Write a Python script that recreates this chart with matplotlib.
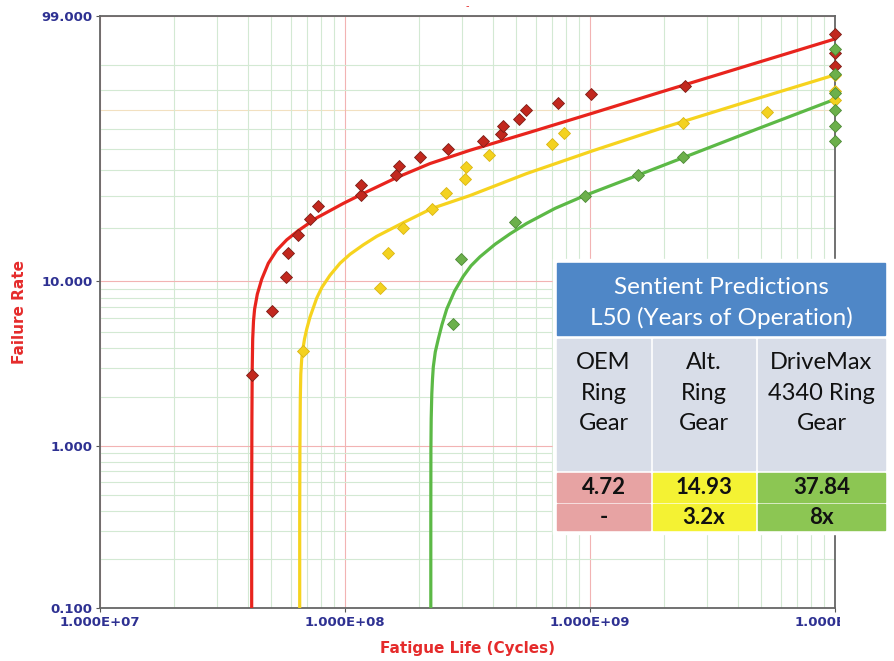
import numpy as np
import matplotlib.pyplot as plt
from matplotlib.patches import Rectangle
from matplotlib.ticker import LogLocator, FixedLocator, NullFormatter
from matplotlib.transforms import Bbox, TransformedBbox

# values: fatigue life (cycles) / failure rate (%)
oem_x = [4.16e7, 5.03e7, 5.74e7, 5.85e7, 6.43e7, 7.19e7, 7.78e7, 1.16e8, 1.16e8,
         1.61e8, 1.66e8, 2.02e8, 2.64e8, 3.65e8, 4.34e8, 4.43e8, 5.12e8, 5.47e8,
         7.38e8, 1.01e9, 2.44e9, 1e10, 1e10, 1e10]
oem_y = [2.74, 6.67, 10.6, 14.5, 18.4, 22.4, 26.4, 30.1, 34.1, 37.9, 42.1, 45.9,
         50.0, 54.1, 57.7, 61.9, 65.4, 69.9, 73.6, 77.8, 81.5, 97.2, 93.3, 89.4]

alt_x = [6.71e7, 1.39e8, 1.50e8, 1.73e8, 2.26e8, 2.58e8, 3.09e8, 3.11e8, 3.86e8,
         7.02e8, 7.85e8, 2.40e9, 5.26e9, 1e10, 1e10, 1e10]
alt_y = [3.81, 9.12, 14.6, 20.2, 25.4, 30.8, 36.4, 41.6, 47.1, 52.5, 58.1, 63.3,
         69.0, 86.1, 79.5, 74.9]

dmx_x = [2.77e8, 2.97e8, 4.94e8, 9.55e8, 1.57e9, 2.39e9,
         1e10, 1e10, 1e10, 1e10, 1e10, 1e10]
dmx_y = [5.58, 13.5, 21.7, 29.8, 37.9, 45.9, 94.4, 86.6, 78.5, 70.2, 61.9, 54.1]

# fitted lines
oem_fit_x = [4.160e7, 4.160e7, 4.169e7, 4.181e7, 4.200e7, 4.232e7, 4.276e7, 4.386e7,
             4.571e7, 4.864e7, 5.263e7, 5.781e7, 6.429e7, 7.664e7, 9.842e7, 1.188e8,
             1.626e8, 2.223e8, 3.237e8, 5.690e8, 1.029e9, 1.931e9, 4.498e9, 1e10]
oem_fit_y = [0.1, 0.475, 1.471, 2.972, 4.514, 5.787, 6.828, 8.379,
             10.26, 12.71, 15.08, 17.28, 19.40, 22.86, 27.30, 30.76,
             36.94, 43.03, 49.33, 58.48, 68.53, 78.83, 89.93, 96.39]

alt_fit_x = [6.533e7, 6.533e7, 6.546e7, 6.570e7, 6.601e7, 6.657e7, 6.733e7, 6.835e7,
             6.978e7, 7.197e7, 7.664e7, 8.055e7, 8.687e7, 9.541e7, 1.048e8, 1.188e8,
             1.347e8, 1.729e8, 2.265e8, 3.237e8, 5.516e8, 1.031e9, 1.931e9, 4.498e9, 1e10]
alt_fit_y = [0.1, 0.358, 0.963, 1.950, 2.770, 3.416, 3.927, 4.514,
             5.184, 6.117, 7.934, 9.213, 10.83, 12.71, 14.31, 16.20,
             18.08, 21.52, 25.69, 30.00, 38.62, 49.17, 60.34, 74.75, 86.35]

dmx_fit_x = [2.240e8, 2.240e8, 2.242e8, 2.248e8, 2.261e8, 2.276e8, 2.293e8, 2.336e8,
             2.403e8, 2.488e8, 2.601e8, 2.799e8, 3.040e8, 3.268e8, 3.556e8, 4.095e8,
             4.715e8, 5.516e8, 7.197e8, 9.541e8, 1.574e9, 2.388e9, 4.942e9, 1e10]
dmx_fit_y = [0.1, 0.358, 0.963, 1.471, 2.092, 2.582, 3.055, 3.767,
             4.514, 5.516, 6.828, 8.727, 10.68, 12.29, 13.85, 16.31,
             18.67, 21.33, 25.69, 30.03, 37.98, 45.67, 60.75, 75.49]

x_ticks = [1e7, 1e8, 1e9, 1e10]
x_tick_labels = ['1.000E+07', '1.000E+08', '1.000E+09', '1.000E+10']
y_ticks = [0.1, 1, 10, 99]
y_tick_labels = ['0.100', '1.000', '10.000', '99.000']
y_minor = [0.2, 0.3, 0.4, 0.5, 0.6, 0.7, 0.8, 0.9, 2, 3, 4, 5, 6, 7, 8, 9,
           20, 30, 40, 50, 60, 80, 90]

# table
table_title = ['Sentient Predictions', 'L50 (Years of Operation)']
gear_names = ['OEM\nRing\nGear', 'Alt.\nRing\nGear', 'DriveMax\n4340 Ring\nGear']
l50_years = ['4.72', '14.93', '37.84']
improvement = ['-', '3.2x', '8x']
cell_colors = ['#e7a3a3', '#f4f233', '#8cc653']

RED = '#e52b2b'
NAVY = '#2e3192'


def weib(p):
    p = np.clip(np.asarray(p, dtype=float), 1e-6, 99.99999) / 100.0
    return np.log(-np.log(1.0 - p))


def weib_inv(w):
    w = np.clip(np.asarray(w, dtype=float), -40, 3)
    return 100.0 * (1.0 - np.exp(-np.exp(w)))


fig = plt.figure(figsize=(8.94, 6.61), dpi=100)
ax = fig.add_axes([100 / 894, 1 - 608 / 661, 735 / 894, 592 / 661])
ax.set_xscale('log')
ax.set_yscale('function', functions=(weib, weib_inv))
ax.set_xlim(1e7, 1e10)
ax.set_ylim(0.1, 99)

ax.set_xticks(x_ticks)
ax.set_xticklabels(x_tick_labels, fontweight='bold', color=NAVY, fontsize=9.5)
ax.xaxis.set_minor_locator(LogLocator(base=10, subs=np.arange(2, 10)))
ax.xaxis.set_minor_formatter(NullFormatter())
ax.set_yticks(y_ticks)
ax.set_yticklabels(y_tick_labels, fontweight='bold', color=NAVY, fontsize=9.5)
ax.yaxis.set_minor_locator(FixedLocator(y_minor))
ax.yaxis.set_minor_formatter(NullFormatter())
ax.tick_params(which='major', length=3, pad=2.5, color='#555555')
ax.tick_params(which='minor', length=0)

ax.grid(which='minor', color='#d3e9d3', lw=0.8)
ax.grid(which='major', color='#f2b3b3', lw=0.8)
ax.axhline(70, color='#f2e0c0', lw=0.8, zorder=0.5)
ax.set_axisbelow(True)
for s in ax.spines.values():
    s.set_color('#666666')
    s.set_linewidth(1.3)

ax.set_xlabel('Fatigue Life (Cycles)', color=RED, fontweight='bold', fontsize=11, labelpad=9)
ax.set_ylabel('Failure Rate', color=RED, fontweight='bold', fontsize=11, labelpad=10)

# last x label is cut off in the original
lab = ax.get_xticklabels()[-1]
lab.set_clip_on(True)
lab.set_clip_box(TransformedBbox(Bbox([[0, 0], [840 / 894, 1]]), fig.transFigure))

ax.plot(oem_fit_x, oem_fit_y, color='#e8241d', lw=2.3, zorder=3, solid_joinstyle='round')
ax.plot(alt_fit_x, alt_fit_y, color='#f6d31e', lw=2.3, zorder=3, solid_joinstyle='round')
ax.plot(dmx_fit_x, dmx_fit_y, color='#5cb946', lw=2.3, zorder=3, solid_joinstyle='round')

ax.plot(oem_x, oem_y, 'D', ms=5.8, mfc='#c2281e', mec='#7c1d16', mew=0.6, clip_on=False, zorder=4)
ax.plot(alt_x, alt_y, 'D', ms=5.8, mfc='#f3d21f', mec='#d9b514', mew=0.6, clip_on=False, zorder=4)
ax.plot(dmx_x, dmx_y, 'D', ms=5.8, mfc='#6cb04b', mec='#4d8a36', mew=0.6, clip_on=False, zorder=4)

fig.text(467 / 894, 1 - 6 / 661, '-', color=RED, fontsize=7, ha='center', va='center')

# prediction table overlaid on the plot
tab = fig.add_axes([0, 0, 1, 1], zorder=5)
tab.set_xlim(0, 894)
tab.set_ylim(661, 0)
tab.axis('off')
tab.add_patch(Rectangle((553, 259), 336, 275, color='white'))
tab.add_patch(Rectangle((557, 263), 328, 72, color='#4f87c7'))
tab.text(721, 287, table_title[0], color='white', fontsize=17.5, family='Lato',
         ha='center', va='center')
tab.text(721, 318, table_title[1], color='white', fontsize=17.5, family='Lato',
         ha='center', va='center')

cols = [(557, 650), (653, 755), (758, 885)]
for i, (x0, x1) in enumerate(cols):
    xc = (x0 + x1) / 2
    tab.add_patch(Rectangle((x0, 339), x1 - x0, 131, color='#d8dde8'))
    tab.add_patch(Rectangle((x0, 473), x1 - x0, 29, color=cell_colors[i]))
    tab.add_patch(Rectangle((x0, 504), x1 - x0, 26, color=cell_colors[i]))
    tab.text(xc, 393, gear_names[i], fontsize=17, family='Lato', color='#111111',
             ha='center', va='center', linespacing=1.55)
    tab.text(xc, 488, l50_years[i], fontsize=16, family='Lato', fontweight='bold',
             color='#111111', ha='center', va='center')
    tab.text(xc, 517, improvement[i], fontsize=16, family='Lato', fontweight='bold',
             color='#111111', ha='center', va='center')

fig.savefig('out.png', dpi=100)
